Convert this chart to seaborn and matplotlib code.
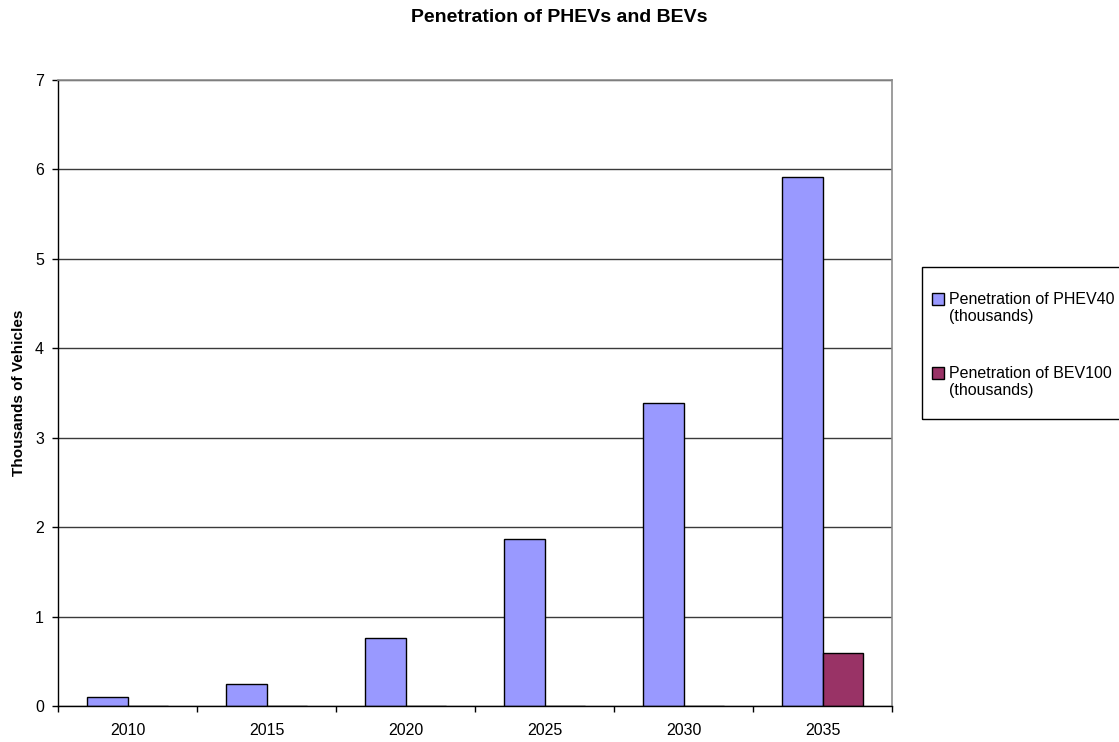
import matplotlib
matplotlib.use("Agg")
import matplotlib.pyplot as plt
import matplotlib.patches as mpatches
from matplotlib.legend_handler import HandlerPatch
import numpy as np
import pandas as pd
import seaborn as sns

# data (thousands of vehicles)
years = ["2010", "2015", "2020", "2025", "2030", "2035"]
phev40 = [0.10, 0.245, 0.76, 1.87, 3.39, 5.91]
bev100 = [0.0, 0.0, 0.0, 0.0, 0.0, 0.59]
series_names = ["Penetration of PHEV40\n(thousands)", "Penetration of BEV100\n(thousands)"]
colors = ["#9999FF", "#993366"]

df = pd.DataFrame({
    "year": years * 2,
    "value": phev40 + bev100,
    "series": [series_names[0]] * len(years) + [series_names[1]] * len(years),
})

sns.set_style("white")
plt.rcParams["font.family"] = ["Liberation Sans", "DejaVu Sans"]
plt.rcParams["text.color"] = "black"
plt.rcParams["xtick.color"] = "black"
plt.rcParams["ytick.color"] = "black"

W, H = 1119, 742
fig = plt.figure(figsize=(W / 100, H / 100), dpi=100)
ax = fig.add_axes([58 / W, 1 - 706 / H, (892 - 58) / W, (706 - 80) / H])

sns.barplot(data=df, x="year", y="value", hue="series", order=years,
            hue_order=series_names, palette=colors, saturation=1,
            width=0.58, edgecolor="black", linewidth=1, ax=ax, legend=False)

ax.set_xlim(-0.5, len(years) - 0.5)
ax.set_ylim(0, 7)
ax.set_yticks(range(0, 8))
ax.yaxis.grid(True, color="#3a3a3a", lw=1)
ax.set_axisbelow(True)
ax.set_xlabel("")
ax.set_ylabel("")

for s in ["left", "bottom"]:
    ax.spines[s].set_color("black")
    ax.spines[s].set_linewidth(1)
for s in ["top", "right"]:
    ax.spines[s].set_color("#8c8c8c")
    ax.spines[s].set_linewidth(1.2)

ax.set_xticks(np.arange(-0.5, len(years), 1), minor=True)
ax.tick_params(axis="x", which="major", bottom=True, length=0, pad=12, labelsize=11.5)
ax.tick_params(axis="x", which="minor", bottom=True, length=4, width=1, color="black", direction="out")
ax.tick_params(axis="y", left=True, length=4, width=1, color="black", direction="out", pad=6, labelsize=11.5)

fig.text(0.5, 1 - 18 / H, "Penetration of PHEVs and BEVs", ha="center", va="center",
         fontsize=14, fontweight="bold")
fig.text(19 / W, 1 - 393 / H, "Thousands of Vehicles", rotation=90, ha="center",
         va="center", fontsize=11, fontweight="bold")


# legend square sits beside the first line of the two-line label
def first_line_box(legend, orig_handle, xdescent, ydescent, width, height, fontsize):
    return mpatches.Rectangle((-xdescent, -ydescent + 0.6 * fontsize), width, height)


fig.patches.append(mpatches.Rectangle((922 / W, 1 - 419 / H), 0.2, 152 / H,
                                      transform=fig.transFigure, fill=False,
                                      edgecolor="black", lw=1))
handles = [mpatches.Patch(facecolor=c, edgecolor="black", lw=1) for c in colors]
fig.legend(handles, series_names, loc="upper left", bbox_to_anchor=(924 / W, 1 - 284 / H),
           frameon=False, fontsize=11.5, handlelength=0.75, handleheight=0.75,
           handletextpad=0.3, labelspacing=2.6, borderpad=0,
           handler_map={mpatches.Patch: HandlerPatch(patch_func=first_line_box)})

fig.savefig("out.png", dpi=100)
